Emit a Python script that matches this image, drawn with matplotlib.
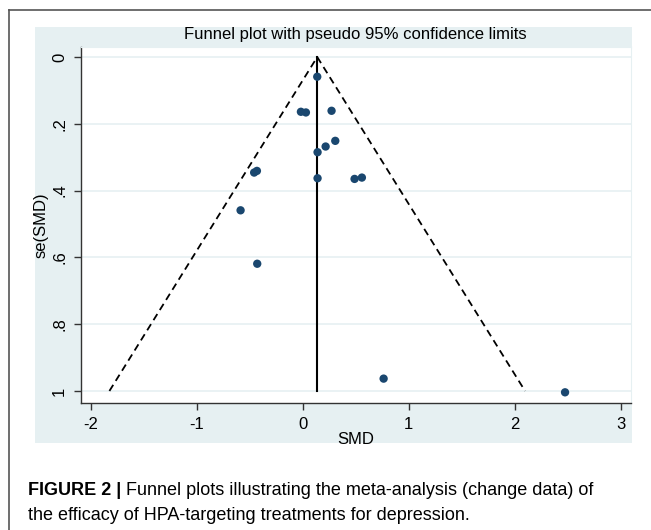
import numpy as np
import matplotlib
matplotlib.use('Agg')
import matplotlib.pyplot as plt
from matplotlib.patches import Rectangle
from matplotlib.lines import Line2D

plt.rcParams['font.family'] = ['Liberation Sans', 'DejaVu Sans']

# study estimates
smd = [0.138, -0.016, 0.031, 0.273, 0.141, 0.217, 0.308, 0.141,
       0.490, 0.559, -0.457, -0.431, -0.585, -0.428, 0.764, 2.475]
se = [0.059, 0.164, 0.166, 0.161, 0.285, 0.268, 0.251, 0.363,
      0.365, 0.361, 0.346, 0.341, 0.459, 0.619, 0.963, 1.004]
pooled = 0.138
se_max = 1.0
xticks = [-2, -1, 0, 1, 2, 3]
yticks = [0, 0.2, 0.4, 0.6, 0.8, 1.0]
yticklabels = ['0', '.2', '.4', '.6', '.8', '1']

W, H = 651, 530
fig = plt.figure(figsize=(W / 100, H / 100), dpi=100)
fig.patch.set_facecolor('white')

bluegray = '#e6f0f2'
navy = '#1a476f'

# outer page frame (top and left edges)
fig.add_artist(Line2D([9 / W, 1.0], [1 - 10 / H, 1 - 10 / H], color='#555555', lw=1.2))
fig.add_artist(Line2D([9 / W, 9 / W], [0, 1 - 10 / H], color='#555555', lw=1.2))

# stata graph region
fig.add_artist(Rectangle((35 / W, 1 - 443 / H), (632 - 35) / W, (443 - 27) / H,
                         transform=fig.transFigure, facecolor=bluegray, edgecolor='none', zorder=0))

ax = fig.add_axes([81 / W, 1 - 403 / H, (631 - 81) / W, (403 - 47) / H])
ax.set_facecolor('white')

# funnel limits and pooled estimate
ax.plot([pooled - 1.96 * se_max, pooled, pooled + 1.96 * se_max], [se_max, 0, se_max],
        color='black', lw=1.3, ls=(0, (4, 2.6)), zorder=2)
ax.plot([pooled, pooled], [0, se_max], color='black', lw=1.5, zorder=2)
ax.scatter(smd, se, s=36, color=navy, edgecolors='none', zorder=3)

ax.set_xlim(-2.09, 3.097)
ax.set_ylim(1.036, -0.03)
ax.set_xticks(xticks)
ax.set_xticklabels([str(t) for t in xticks])
ax.set_yticks(yticks)
ax.set_yticklabels(yticklabels, rotation=90, va='center')
for y in yticks:
    ax.axhline(y, color=bluegray, lw=1.2, zorder=1)

for side in ['top', 'right']:
    ax.spines[side].set_color(bluegray)
for side in ['left', 'bottom']:
    ax.spines[side].set_color('#333333')
    ax.spines[side].set_linewidth(1.0)
ax.tick_params(axis='x', length=5, width=1, color='#333333', pad=5, labelsize=12)
ax.tick_params(axis='y', length=5, width=1, color='#333333', pad=5, labelsize=12)

ax.set_xlabel('SMD', fontsize=12, labelpad=0)
ax.set_ylabel('se(SMD)', fontsize=12, labelpad=2.5)

fig.text(355 / W, 1 - 34 / H, 'Funnel plot with pseudo 95% confidence limits',
         ha='center', va='center', fontsize=12)

# caption
t = fig.text(28 / W, 1 - 495 / H, 'FIGURE 2 |', fontsize=13, fontweight='bold',
             ha='left', va='baseline')
ax.annotate(' Funnel plots illustrating the meta-analysis (change data) of',
            xy=(1, 0), xycoords=t, va='bottom', ha='left', fontsize=13,
            annotation_clip=False)
fig.text(28 / W, 1 - 520 / H, 'the efficacy of HPA-targeting treatments for depression.',
         fontsize=13, ha='left', va='baseline')

fig.savefig('out.png', dpi=100)
